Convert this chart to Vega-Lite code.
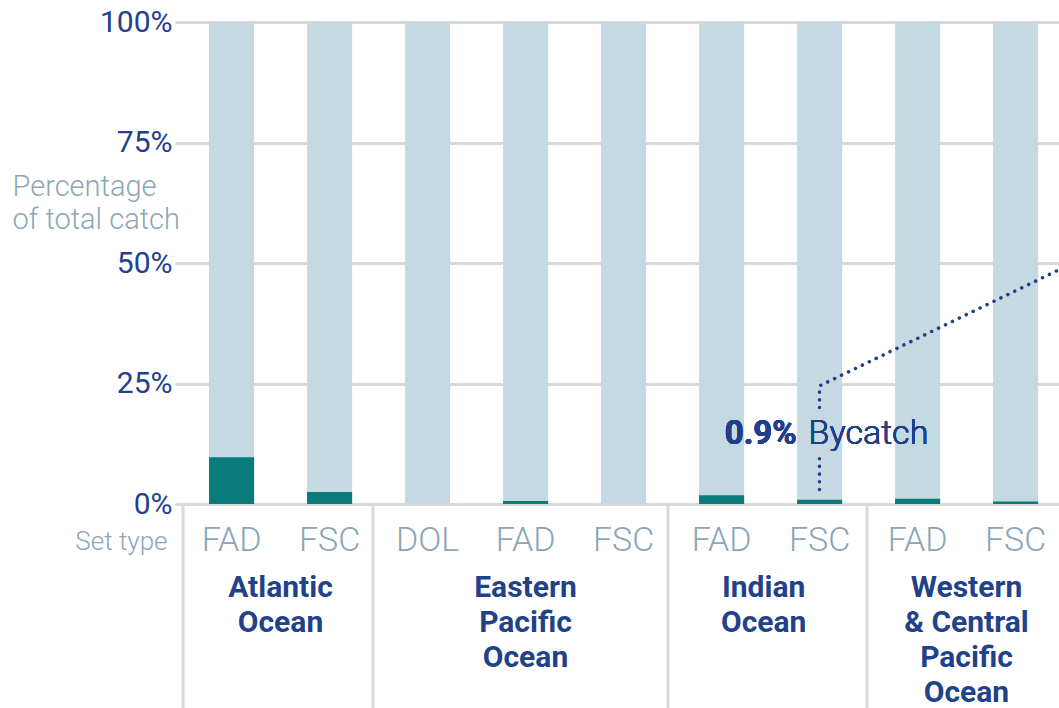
{
  "$schema": "https://vega.github.io/schema/vega-lite/v6.json",
  "width": 884,
  "height": 482,
  "autosize": {"type": "none"},
  "padding": {"left": 175, "top": 22, "right": 0, "bottom": 204},
  "background": "white",
  "config": {"view": {"stroke": null}, "font": "Roboto"},
  "datasets": {
    "bars": [
      {"ocean": "Atlantic Ocean", "set": "FAD", "key": "A|FAD", "bycatch": 0.097},
      {"ocean": "Atlantic Ocean", "set": "FSC", "key": "A|FSC", "bycatch": 0.025},
      {"ocean": "Eastern Pacific Ocean", "set": "DOL", "key": "E|DOL", "bycatch": 0.0},
      {"ocean": "Eastern Pacific Ocean", "set": "FAD", "key": "E|FAD", "bycatch": 0.006},
      {"ocean": "Eastern Pacific Ocean", "set": "FSC", "key": "E|FSC", "bycatch": 0.0},
      {"ocean": "Indian Ocean", "set": "FAD", "key": "I|FAD", "bycatch": 0.018},
      {"ocean": "Indian Ocean", "set": "FSC", "key": "I|FSC", "bycatch": 0.009},
      {"ocean": "Western & Central Pacific Ocean", "set": "FAD", "key": "W|FAD", "bycatch": 0.011},
      {"ocean": "Western & Central Pacific Ocean", "set": "FSC", "key": "W|FSC", "bycatch": 0.005}
    ],
    "groups": [
      {"label": "Atlantic\nOcean", "first": -0.495, "center": 0.5},
      {"label": "Eastern\nPacific\nOcean", "first": 1.444, "center": 3},
      {"label": "Indian\nOcean", "first": 4.454, "center": 5.43},
      {"label": "Western\n& Central\nPacific\nOcean", "first": 6.485, "center": 7.5}
    ],
    "callout": [
      {"n": 1, "seg": "a", "pos": 6, "pct": 0.03},
      {"n": 2, "seg": "a", "pos": 6, "pct": 0.106},
      {"n": 3, "seg": "b", "pos": 6, "pct": 0.2},
      {"n": 4, "seg": "b", "pos": 6, "pct": 0.245},
      {"n": 5, "seg": "b", "pos": 8.444, "pct": 0.486}
    ]
  },
  "resolve": {"scale": {"x": "independent"}},
  "layer": [
    {
      "data": {"name": "bars"},
      "encoding": {
        "x": {
          "field": "key",
          "type": "nominal",
          "sort": null,
          "scale": {"paddingInner": 0.54, "paddingOuter": 0.28, "align": 0.62},
          "axis": {
            "orient": "bottom",
            "labelExpr": "split(datum.value, '|')[1]",
            "labelAngle": 0,
            "labelFont": "Roboto",
            "labelFontWeight": 300,
            "labelFontSize": 34,
            "labelColor": "#8aa5b8",
            "labelBaseline": "alphabetic",
            "labelPadding": 46,
            "ticks": false,
            "domain": true,
            "domainColor": "#d9d9d9",
            "domainWidth": 3,
            "grid": false,
            "title": "Set type",
            "titleFont": "Roboto",
            "titleFontWeight": 300,
            "titleFontSize": 26,
            "titleColor": "#8aa5b8",
            "titleAlign": "right",
            "titleBaseline": "alphabetic",
            "titleX": -8,
            "titleY": 45
          }
        }
      },
      "layer": [
        {
          "mark": {"type": "bar", "color": "#c5d9e2"},
          "encoding": {
            "y": {
              "datum": 1,
              "type": "quantitative",
              "scale": {"domain": [0, 1], "clamp": false, "nice": false},
              "axis": {
                "values": [0, 0.25, 0.5, 0.75, 1],
                "format": ".0%",
                "labelFont": "Roboto",
                "labelFontSize": 30,
                "labelColor": "#23408e",
                "labelPadding": 3,
                "ticks": false,
                "domain": false,
                "grid": true,
                "gridColor": "#d9d9d9",
                "gridWidth": 3,
                "title": ["Percentage", "of total catch"],
                "titleFont": "Roboto",
                "titleFontWeight": 300,
                "titleFontSize": 29,
                "titleColor": "#8ba6b7",
                "titleAngle": 0,
                "titleAlign": "left",
                "titleBaseline": "alphabetic",
                "titleLineHeight": 33,
                "titleX": -163,
                "titleY": 173
              }
            }
          }
        },
        {
          "mark": {"type": "bar", "color": "#087b7a"},
          "encoding": {
            "y": {"field": "bycatch", "type": "quantitative", "scale": {"domain": [0, 1]}}
          }
        },
        {
          "mark": {"type": "text", "align": "right", "baseline": "alphabetic", "dx": -23, "font": "Roboto", "fontWeight": "bold", "fontSize": 33, "color": "#1f3f8a", "text": "0.9%"},
          "encoding": {
            "x": {"datum": "I|FSC"},
            "y": {"datum": 0.124, "type": "quantitative"}
          }
        },
        {
          "mark": {"type": "text", "align": "left", "baseline": "alphabetic", "dx": -11, "font": "Roboto", "fontWeight": 300, "fontSize": 34, "color": "#1f3f8a", "text": "Bycatch"},
          "encoding": {
            "x": {"datum": "I|FSC"},
            "y": {"datum": 0.124, "type": "quantitative"}
          }
        }
      ]
    },
    {
      "layer": [
        {
          "data": {"name": "groups"},
          "mark": {"type": "rule", "color": "#d9d9d9", "strokeWidth": 3, "clip": false},
          "encoding": {
            "x": {"field": "first", "type": "quantitative", "scale": {"domain": [-0.5765, 8.444], "nice": false, "zero": false}, "axis": null},
            "y": {"datum": 0, "type": "quantitative"},
            "y2": {"datum": -0.43}
          }
        },
        {
          "data": {"name": "groups"},
          "mark": {"type": "text", "align": "center", "baseline": "alphabetic", "lineBreak": "\n", "lineHeight": 35, "dy": 93, "font": "Roboto", "fontWeight": "bold", "fontSize": 30, "color": "#1f4289"},
          "encoding": {
            "x": {"field": "center", "type": "quantitative", "axis": null},
            "y": {"datum": 0, "type": "quantitative"},
            "text": {"field": "label"}
          }
        },
        {
          "data": {"name": "callout"},
          "mark": {"type": "line", "color": "#1f3f8a", "strokeWidth": 3.5, "strokeCap": "round", "strokeDash": [0.1, 7.6], "clip": false},
          "encoding": {
            "x": {"field": "pos", "type": "quantitative", "axis": null},
            "y": {"field": "pct", "type": "quantitative"},
            "detail": {"field": "seg"},
            "order": {"field": "n"}
          }
        }
      ]
    }
  ]
}
